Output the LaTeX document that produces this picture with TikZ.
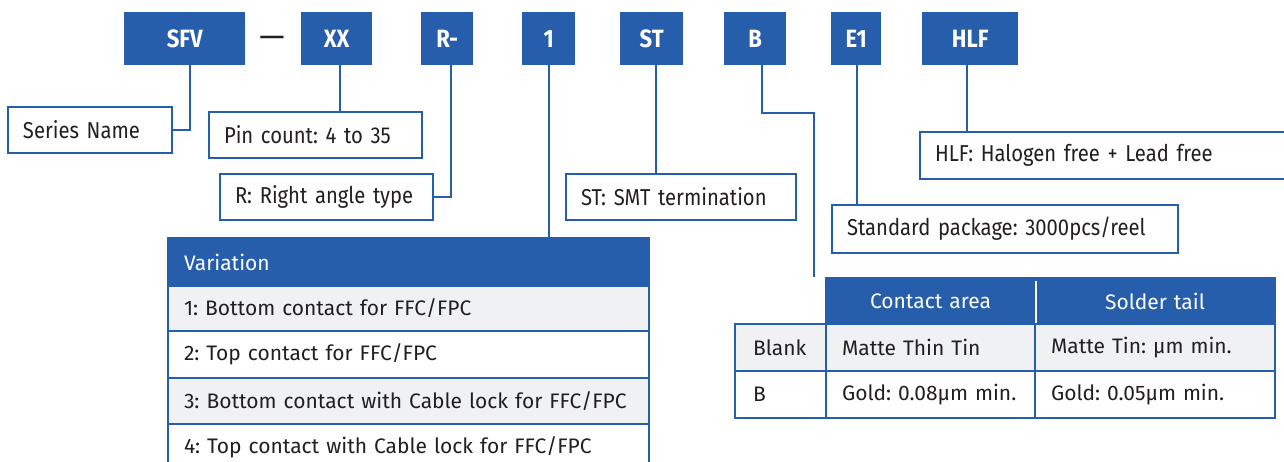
\documentclass[tikz,border=0pt]{standalone}
\usepackage{fontspec}
\setmainfont{Fira Sans}
\newfontfamily\narrow{Fira Sans}[FakeStretch=0.88]
\definecolor{fblue}{RGB}{38,94,172}
\definecolor{rowgray}{RGB}{240,241,243}
\definecolor{ink}{RGB}{35,31,32}
\frenchspacing

\begin{document}
\begin{tikzpicture}[x=1pt,y=-1pt]
  \useasboundingbox (0,0) rectangle (1284,461);
  \clip (0,0) rectangle (1284,461);

  % part number
  \begin{scope}[every node/.style={rectangle, fill=fblue, text=white, anchor=north west, inner sep=0pt, minimum height=53pt, font=\narrow\bfseries\fontsize{25}{28}\selectfont}]
    \node [minimum width=121pt] (sfv) at (124,12) {SFV};
    \node [minimum width=71pt] (xx) at (301,12) {XX};
    \node [minimum width=52pt] (rr) at (421,12) {R-};
    \node [minimum width=53pt] (one) at (522,12) {1};
    \node [minimum width=63pt] (st) at (620,12) {ST};
    \node [minimum width=62pt] (bb) at (724,12) {B};
    \node [minimum width=50pt] (eone) at (831,12) {E1};
    \node [minimum width=96pt] (hlf) at (922,12) {HLF};
  \end{scope}
  \node [text=ink, font=\fontsize{32}{34}\selectfont] (dash) at (272,42) {—};

  % descriptions
  \begin{scope}[every node/.style={rectangle, draw=fblue, line width=2pt, fill=white, text=ink, anchor=north west, inner xsep=15pt, inner ysep=0pt, minimum height=46pt, align=left, font=\narrow\fontsize{23}{26}\selectfont}]
    \node [text width=134pt] (series) at (7,106) {Series Name};
    \node [text width=183pt] (pin) at (208,111) {Pin count: 4 to 35};
    \node [text width=183pt] (rat) at (219,173) {R: Right angle type};
    \node [text width=200pt] (smt) at (565,173) {ST: SMT termination};
    \node [text width=316pt, minimum height=48pt] (pkg) at (831,204) {Standard package: 3000pcs/reel};
    \node [text width=351pt, minimum height=47pt] (free) at (919,131) {HLF: Halogen free + Lead free};
  \end{scope}

  % variation table
  \begin{scope}[every node/.style={rectangle, draw=fblue, line width=2pt, text=ink, anchor=north west, inner xsep=16pt, inner ysep=0pt, text width=449pt, align=left, font=\fontsize{21}{24}\selectfont}]
    \node [fill=fblue, text=white, minimum height=48pt] (var) at (167,237) {Variation};
    \node [fill=rowgray, minimum height=45pt] (varone) at (167,285) {1: Bottom contact for FFC/FPC};
    \node [fill=white, minimum height=47pt] (vartwo) at (167,330) {2: Top contact for FFC/FPC};
    \node [fill=rowgray, minimum height=46pt] (varthree) at (167,377) {\mbox{3: Bottom contact with Cable lock for FFC/FPC}};
    \node [fill=white, minimum height=46pt] (varfour) at (167,423) {4: Top contact with Cable lock for FFC/FPC};
  \end{scope}

  % plating table
  \begin{scope}[every node/.style={rectangle, draw=fblue, line width=2pt, text=ink, anchor=north west, inner ysep=0pt, align=left, font=\fontsize{21}{24}\selectfont}]
    \node [fill=fblue, text=white, minimum height=46pt, text width=209pt, inner xsep=0pt, align=center] (area) at (825,277) {Contact area};
    \node [fill=fblue, text=white, minimum height=46pt, text width=240pt, inner xsep=0pt, align=center] (tail) at (1034,277) {Solder tail};
    \node [fill=rowgray, minimum height=47pt, text width=73pt, inner xsep=18pt] (blank) at (734,323) {Blank};
    \node [fill=rowgray, minimum height=47pt, text width=177pt, inner xsep=16pt] (blankarea) at (825,323) {Matte Thin Tin};
    \node [fill=rowgray, minimum height=47pt, text width=208pt, inner xsep=16pt] (blanktail) at (1034,323) {Matte Tin: µm min.};
    \node [fill=white, minimum height=47pt, text width=73pt, inner xsep=18pt] (gold) at (734,370) {B};
    \node [fill=white, minimum height=47pt, text width=177pt, inner xsep=16pt] (goldarea) at (825,370) {\mbox{Gold: 0.08µm min.}};
    \node [fill=white, minimum height=47pt, text width=208pt, inner xsep=16pt] (goldtail) at (1034,370) {Gold: 0.05µm min.};
  \end{scope}
  \draw [white, line width=2pt] ([yshift=-4pt]area.north east) -- ([yshift=2pt]area.south east);

  % leaders
  \begin{scope}[fblue, line width=2pt]
    \draw ([xshift=5pt]sfv.south) |- (series.east);
    \draw ([xshift=3pt]xx.south) -- ([xshift=3pt]xx.south |- pin.north);
    \draw ([xshift=4pt]rr.south) |- (rat.east);
    \draw (one.south) -- (one.south |- var.north);
    \draw ([xshift=4pt]st.south) -- ([xshift=4pt]st.south |- smt.north);
    \coordinate (bturn) at (814,113);
    \draw ([xshift=7pt]bb.south) |- (bturn) -- (bturn |- area.north);
    \draw ([xshift=1pt]eone.south) -- ([xshift=1pt]eone.south |- pkg.north);
    \draw ([xshift=-3pt]hlf.south) -- ([xshift=-3pt]hlf.south |- free.north);
  \end{scope}
\end{tikzpicture}
\end{document}
